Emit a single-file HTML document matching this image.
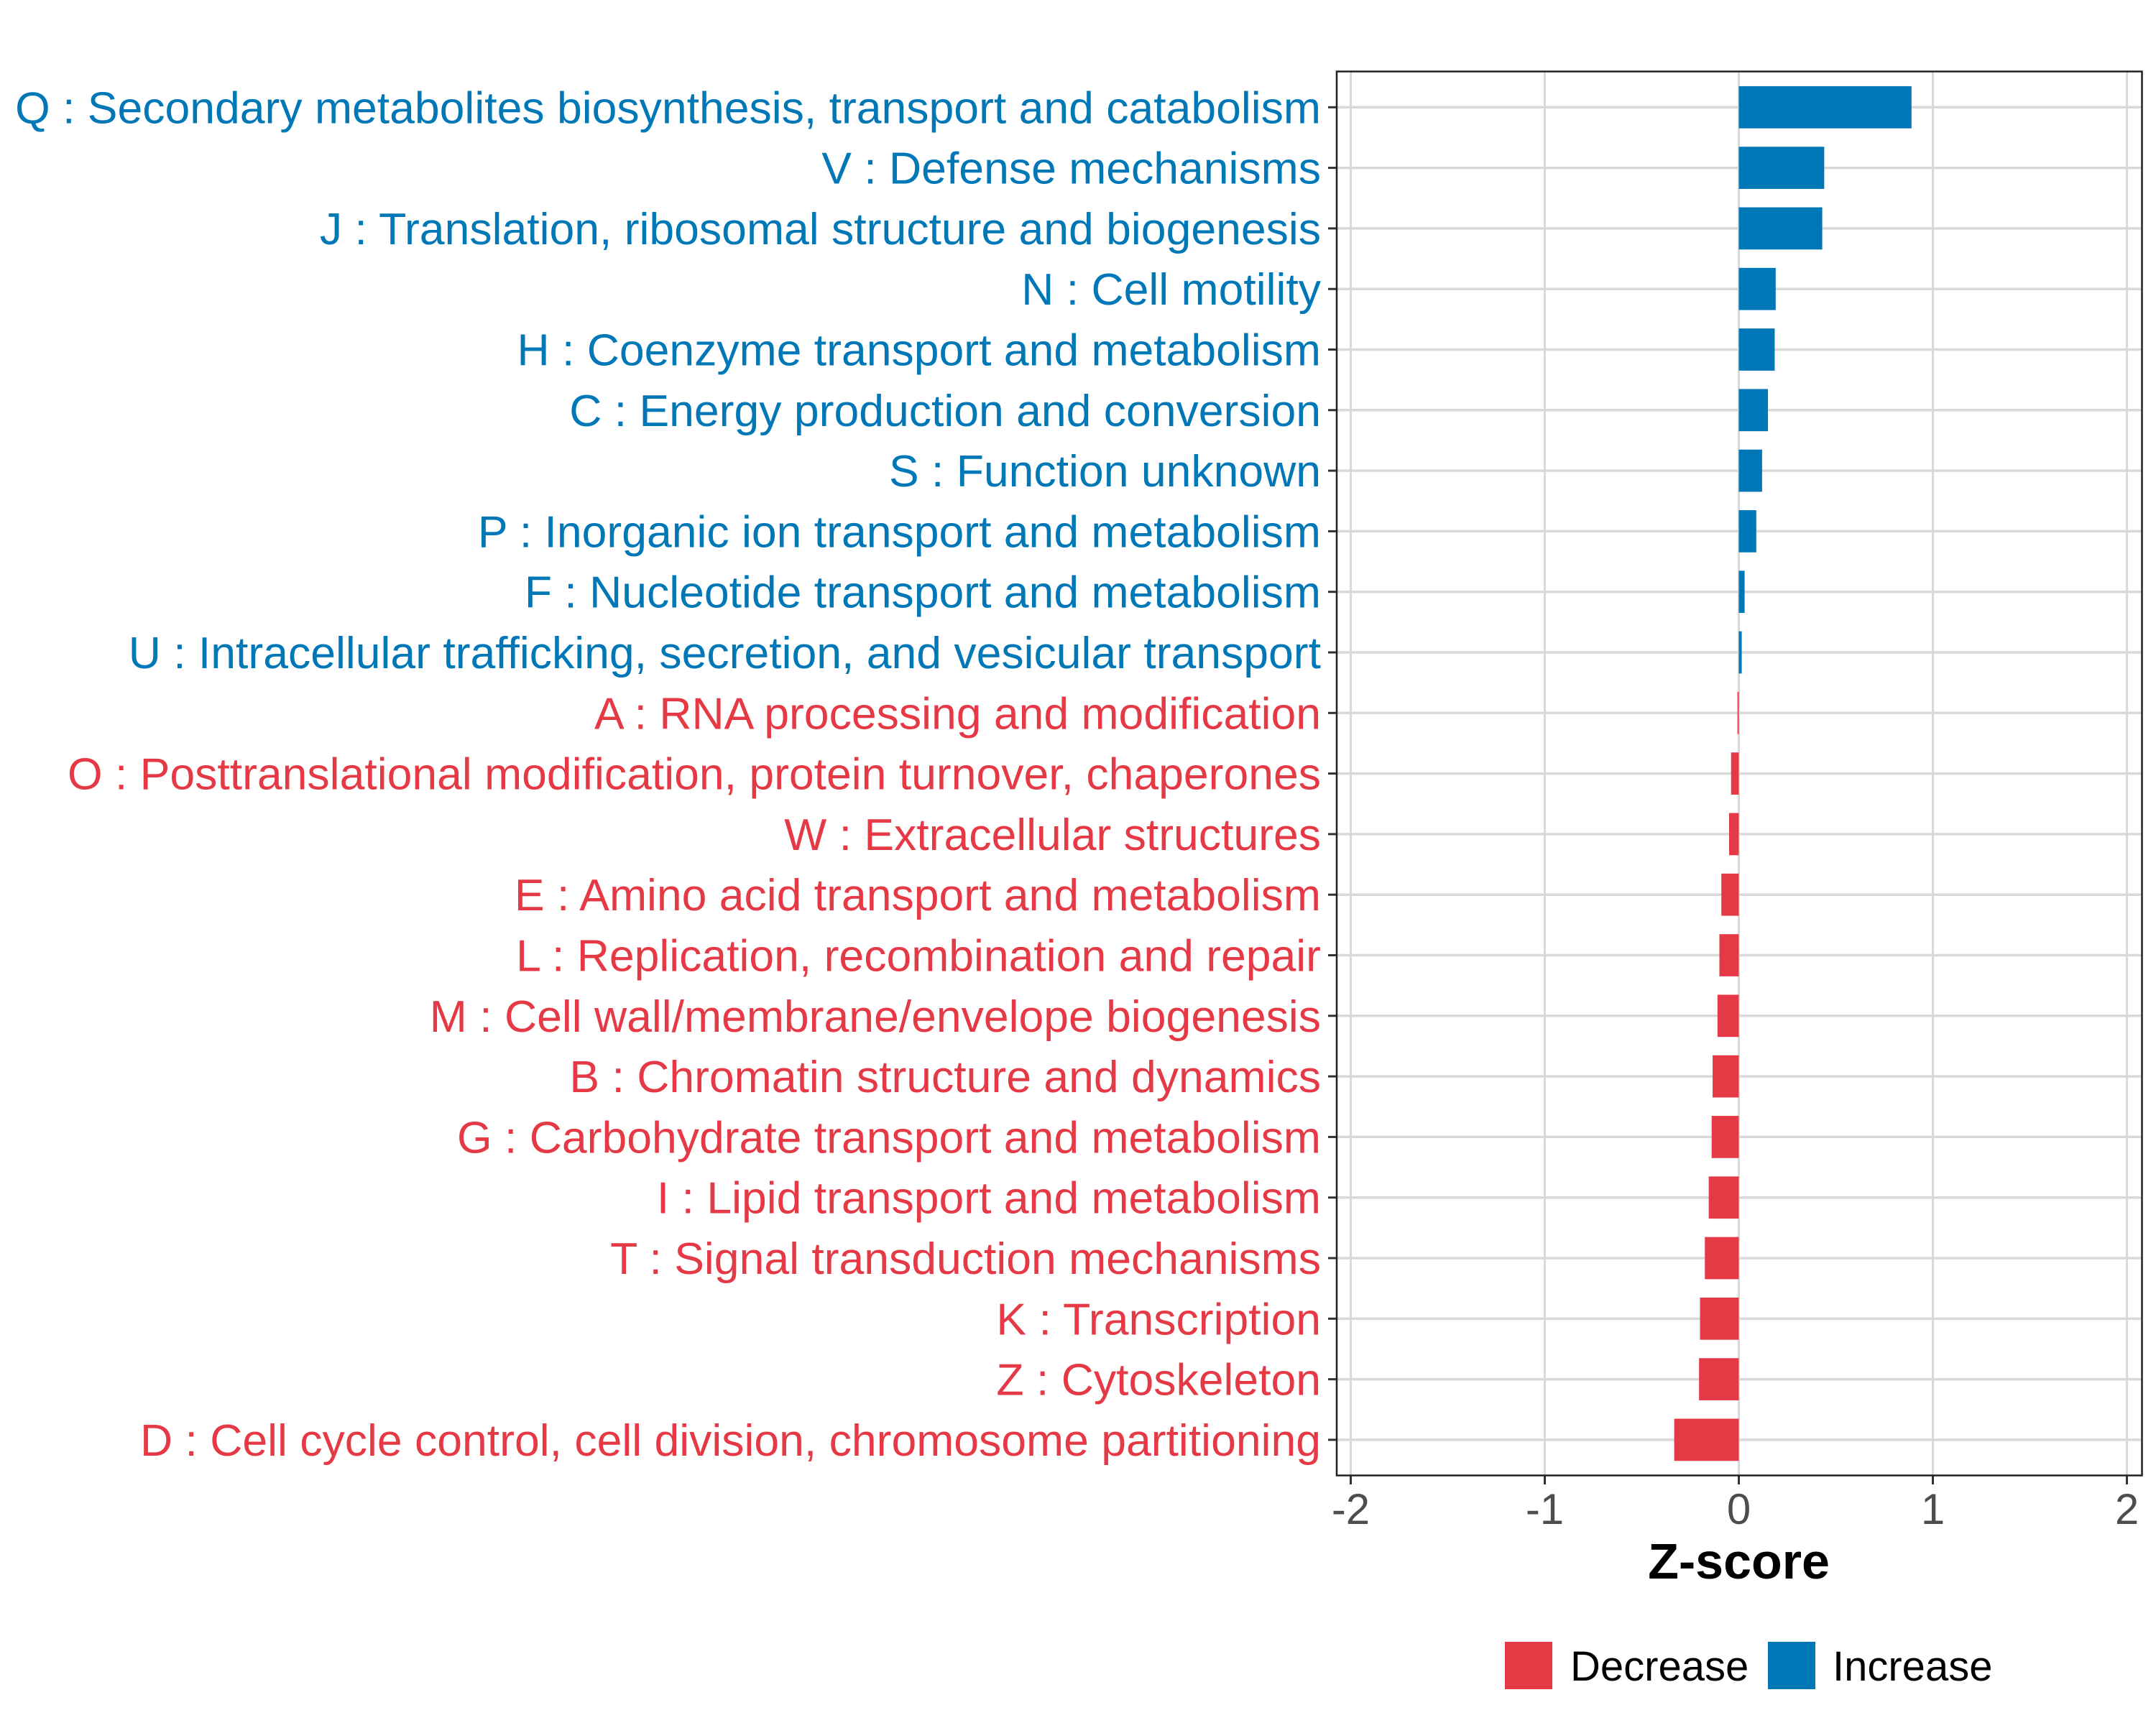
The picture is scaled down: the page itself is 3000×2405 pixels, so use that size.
<!DOCTYPE html>
<html><head><meta charset="utf-8"><style>
html,body{margin:0;padding:0;background:#fff;}
svg text{font-family:"Liberation Sans",Arial,sans-serif;}
</style></head><body>
<svg id="chart" width="3000" height="2400" viewBox="0 0 3000 2400" xmlns="http://www.w3.org/2000/svg">
<rect width="3000" height="2400" fill="#fff"/>
<g id="grid"></g><g id="bars"></g><g id="ylabels"></g><g id="xaxis"></g>
<rect x="1860" y="99.5" width="1120.5" height="1954" fill="none" stroke="#222" stroke-width="2.5"/>
<text x="2419.5" y="2197" text-anchor="middle" font-size="70" font-weight="bold" fill="#000">Z-score</text>
<g>
<rect x="2094" y="2285" width="66" height="66" fill="#E63946"/>
<text x="2185" y="2339" font-size="58" fill="#000">Decrease</text>
<rect x="2460" y="2285" width="66" height="66" fill="#0077B6"/>
<text x="2550" y="2339" font-size="58" fill="#000">Increase</text>
</g>
</svg>
<script>
const categories = ["Q : Secondary metabolites biosynthesis, transport and catabolism","V : Defense mechanisms","J : Translation, ribosomal structure and biogenesis","N : Cell motility","H : Coenzyme transport and metabolism","C : Energy production and conversion","S : Function unknown","P : Inorganic ion transport and metabolism","F : Nucleotide transport and metabolism","U : Intracellular trafficking, secretion, and vesicular transport","A : RNA processing and modification","O : Posttranslational modification, protein turnover, chaperones","W : Extracellular structures","E : Amino acid transport and metabolism","L : Replication, recombination and repair","M : Cell wall/membrane/envelope biogenesis","B : Chromatin structure and dynamics","G : Carbohydrate transport and metabolism","I : Lipid transport and metabolism","T : Signal transduction mechanisms","K : Transcription","Z : Cytoskeleton","D : Cell cycle control, cell division, chromosome partitioning"];
const zscores = [0.89,0.44,0.43,0.19,0.185,0.15,0.12,0.09,0.03,0.015,-0.007,-0.04,-0.05,-0.09,-0.1,-0.11,-0.135,-0.14,-0.155,-0.175,-0.2,-0.205,-0.333];
const xTicks = [-2,-1,0,1,2];
const xTickLabels = ["-2","-1","0","1","2"];
const NS="http://www.w3.org/2000/svg";
const x = v => 2419.5 + v*270;
const y = i => 149.3 + i*84.3;
const BAR_H = 58.7;
function mk(tag, attrs, parent){const e=document.createElementNS(NS,tag);for(const k in attrs)e.setAttribute(k,attrs[k]);parent.appendChild(e);return e;}
const grid=document.getElementById('grid'), bars=document.getElementById('bars'), yl=document.getElementById('ylabels'), xa=document.getElementById('xaxis');
xTicks.forEach((t,k)=>{
  const g=mk('line',{x1:x(t),x2:x(t),y1:99.5,y2:2053.5,stroke:'#d9d9d9','stroke-width':3},grid);
  
  
  const tk=mk('line',{x1:x(t),x2:x(t),y1:2053.5,y2:2066,stroke:'#333','stroke-width':3},xa);
  
  
  const tl=mk('text',{x:x(t),y:2121,'text-anchor':'middle','font-size':60,fill:'#4d4d4d'},xa);
  tl.textContent=xTickLabels[k];
  
  
});
categories.forEach((c,i)=>{
  const v=zscores[i];
  const col = v>=0 ? '#0077B6' : '#E63946';
  const g=mk('line',{x1:1860,x2:2980.5,y1:y(i),y2:y(i),stroke:'#d9d9d9','stroke-width':3.5},grid);
  
  
  const b=mk('rect',{x:Math.min(x(0),x(v)),y:y(i)-BAR_H/2,width:Math.abs(x(v)-x(0)),height:BAR_H,fill:col},bars);
  
  
  const tk=mk('line',{x1:1848,x2:1860,y1:y(i),y2:y(i),stroke:'#333','stroke-width':3},yl);
  
  
  const t=mk('text',{x:1838,y:y(i)+22,'text-anchor':'end','font-size':62.5,fill:col},yl);
  t.textContent=c;
  
  
});
</script>
</body></html>
